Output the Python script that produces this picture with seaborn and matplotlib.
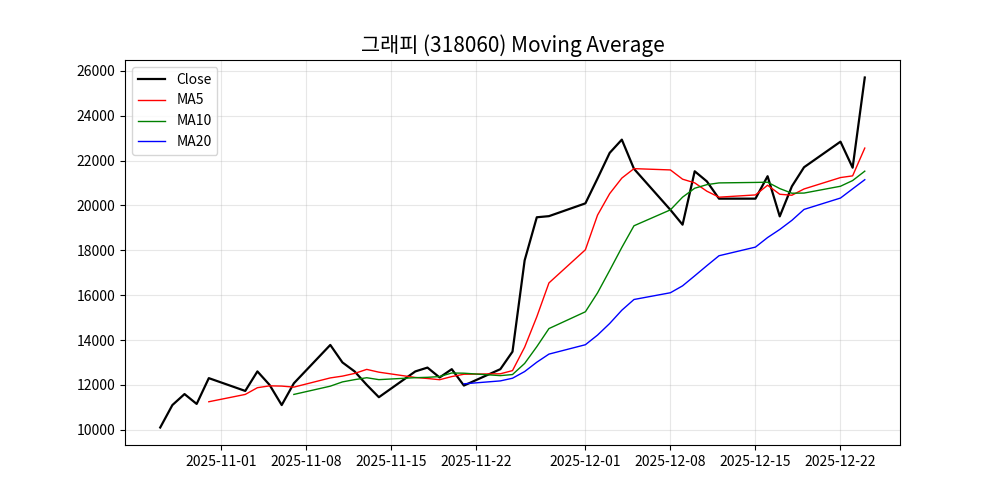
import seaborn as sns
import pandas as pd
import matplotlib.pyplot as plt

# trading days shown on the chart
dates = ["2025-10-27", "2025-10-28", "2025-10-29", "2025-10-30", "2025-10-31",
         "2025-11-03", "2025-11-04", "2025-11-05", "2025-11-06", "2025-11-07",
         "2025-11-10", "2025-11-11", "2025-11-12", "2025-11-13", "2025-11-14",
         "2025-11-17", "2025-11-18", "2025-11-19", "2025-11-20", "2025-11-21",
         "2025-11-24", "2025-11-25", "2025-11-26", "2025-11-27", "2025-11-28",
         "2025-12-01", "2025-12-02", "2025-12-03", "2025-12-04", "2025-12-05",
         "2025-12-08", "2025-12-09", "2025-12-10", "2025-12-11", "2025-12-12",
         "2025-12-15", "2025-12-16", "2025-12-17", "2025-12-18", "2025-12-19",
         "2025-12-22", "2025-12-23", "2025-12-24"]

close = [10100, 11100, 11590, 11150, 12300,
         11730, 12600, 12000, 11100, 12070,
         13780, 13000, 12600, 12000, 11450,
         12600, 12770, 12330, 12700, 11970,
         12700, 13480, 17550, 19470, 19520,
         20090, 21200, 22340, 22930, 21630,
         19800, 19140, 21520, 21070, 20300,
         20300, 21300, 19510, 20850, 21700,
         22840, 21680, 25700]

title = "그래피 (318060) Moving Average"

df = pd.DataFrame({"date": pd.to_datetime(dates), "close": close})
df["ma5"] = df["close"].rolling(5).mean()
df["ma10"] = df["close"].rolling(10).mean()
df["ma20"] = df["close"].rolling(20).mean()

plt.rcParams['font.family'] = ['Noto Sans CJK KR', 'DejaVu Sans']

fig, ax = plt.subplots(figsize=(10, 5), dpi=100)
sns.lineplot(data=df, x="date", y="close", color="black", linewidth=1.6, label="Close", ax=ax)
sns.lineplot(data=df, x="date", y="ma5", color="red", linewidth=1, label="MA5", ax=ax)
sns.lineplot(data=df, x="date", y="ma10", color="green", linewidth=1, label="MA10", ax=ax)
sns.lineplot(data=df, x="date", y="ma20", color="blue", linewidth=1, label="MA20", ax=ax)

ax.set_title(title, fontsize=15)
ax.set_xlabel("")
ax.set_ylabel("")
ax.grid(True, alpha=0.3)
ax.legend(loc="upper left")

plt.savefig("out.png")
plt.close()
